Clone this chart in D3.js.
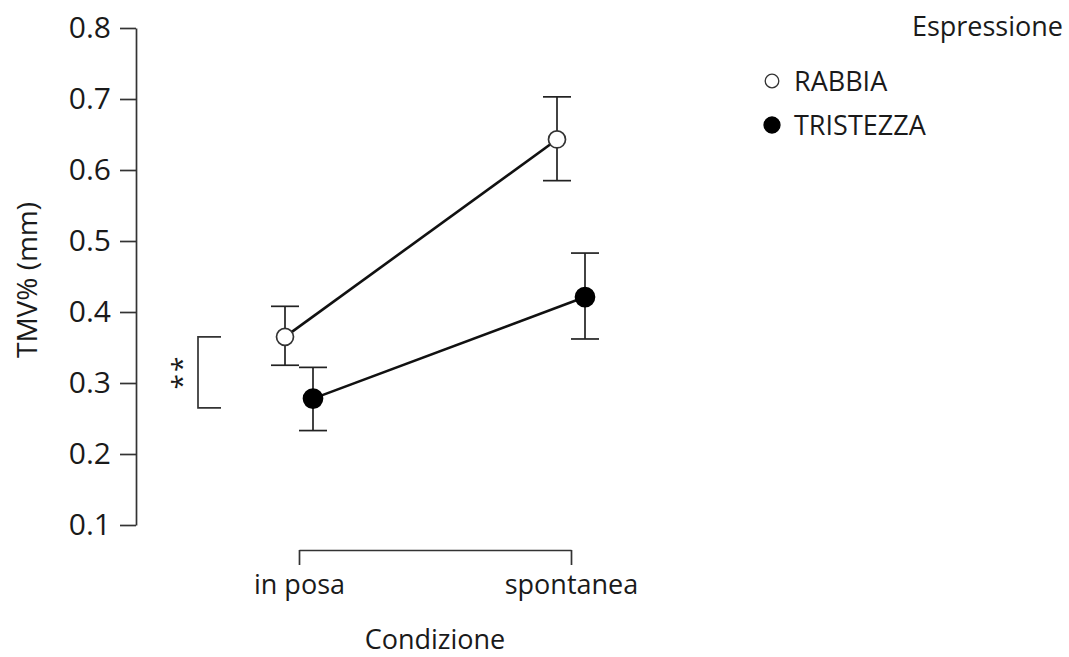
<!DOCTYPE html>
<html>
<head>
<meta charset="utf-8">
<script src="https://cdn.jsdelivr.net/npm/d3@7"></script>
<style>
  body { margin: 0; background: #fff; }
  text { font-family: "Open Sans", "Noto Sans", sans-serif; fill: #1a1a1a; }
</style>
</head>
<body>
<svg id="chart" width="1069" height="657"></svg>
<script>
// data
const conditions = ['in posa', 'spontanea'];
const series = ['RABBIA', 'TRISTEZZA'];
const means = {
    RABBIA: [0.365, 0.643],
    TRISTEZZA: [0.278, 0.421]
};
const errLow = {
    RABBIA: [0.325, 0.585],
    TRISTEZZA: [0.233, 0.362]
};
const errHigh = {
    RABBIA: [0.408, 0.703],
    TRISTEZZA: [0.322, 0.483]
};
const yTicks = [0.1, 0.2, 0.3, 0.4, 0.5, 0.6, 0.7, 0.8];
const sigBracket = [0.265, 0.365];

const svg = d3.select('#chart');
const ink = '#1a1a1a';

const y = d3.scaleLinear().domain([0.1, 0.8]).range([525, 28]);
const x = d3.scalePoint().domain(conditions).range([299, 571]);
const offset = d3.scalePoint().domain(series).range([-14, 14]);

// y axis
const yAxis = svg.append('g')
    .attr('transform', 'translate(136,0)')
    .call(d3.axisLeft(y).tickValues(yTicks).tickFormat(d3.format('.1f')).tickSize(16).tickSizeOuter(0).tickPadding(9));
yAxis.selectAll('path, line').attr('stroke', '#333').attr('stroke-width', 1.7);
yAxis.selectAll('text').style('font-size', '30px').attr('fill', ink);

// x axis (bracket style)
const xAxis = svg.append('g')
    .attr('transform', 'translate(0,550)')
    .call(d3.axisBottom(x).tickSize(15).tickSizeOuter(0).tickPadding(10));
xAxis.selectAll('path, line').attr('stroke', '#333').attr('stroke-width', 1.7);
xAxis.selectAll('text').style('font-size', '27px').attr('fill', ink);

// axis titles
svg.append('text')
    .attr('transform', 'translate(37,280) rotate(-90)')
    .attr('text-anchor', 'middle')
    .style('font-size', '28px')
    .text('TMV% (mm)');

svg.append('text')
    .attr('x', 435).attr('y', 649)
    .attr('text-anchor', 'middle')
    .style('font-size', '27px')
    .text('Condizione');

// significance bracket
svg.append('path')
    .attr('d', `M221,${y(sigBracket[1])}H198V${y(sigBracket[0])}H221`)
    .attr('fill', 'none').attr('stroke', '#333').attr('stroke-width', 1.7);
svg.append('text')
    .attr('transform', 'translate(192,372) rotate(-90)')
    .attr('text-anchor', 'middle')
    .style('font-size', '28px')
    .style('letter-spacing', '2px')
    .text('**');

// lines
const line = d3.line().x(d => x(d.c) + offset(d.s)).y(d => y(d.v));
series.forEach(s => {
    const pts = conditions.map((c, i) => ({ c, s, v: means[s][i] }));
    svg.append('path')
        .attr('d', line(pts))
        .attr('fill', 'none').attr('stroke', '#111').attr('stroke-width', 2.6);
});

// error bars
series.forEach(s => {
    conditions.forEach((c, i) => {
        const cx = x(c) + offset(s);
        const g = svg.append('g').attr('stroke', '#222').attr('stroke-width', 1.7);
        g.append('line').attr('x1', cx).attr('x2', cx).attr('y1', y(errHigh[s][i])).attr('y2', y(errLow[s][i]));
        g.append('line').attr('x1', cx - 14).attr('x2', cx + 14).attr('y1', y(errHigh[s][i])).attr('y2', y(errHigh[s][i]));
        g.append('line').attr('x1', cx - 14).attr('x2', cx + 14).attr('y1', y(errLow[s][i])).attr('y2', y(errLow[s][i]));
    });
});

// points
series.forEach(s => {
    conditions.forEach((c, i) => {
        svg.append('circle')
            .attr('cx', x(c) + offset(s))
            .attr('cy', y(means[s][i]))
            .attr('r', s === 'RABBIA' ? 8.5 : 9.5)
            .attr('fill', s === 'RABBIA' ? '#fff' : '#000')
            .attr('stroke', s === 'RABBIA' ? '#333' : '#000')
            .attr('stroke-width', 1.7);
    });
});

// legend
svg.append('text')
    .attr('x', 1063).attr('y', 36)
    .attr('text-anchor', 'end')
    .style('font-size', '27px')
    .text('Espressione');

const legend = svg.append('g').attr('transform', 'translate(772,81)');
series.forEach((s, i) => {
    const row = legend.append('g').attr('transform', `translate(0,${i * 44})`);
    row.append('circle')
        .attr('r', s === 'RABBIA' ? 6.8 : 8)
        .attr('fill', s === 'RABBIA' ? '#fff' : '#000')
        .attr('stroke', s === 'RABBIA' ? '#333' : '#000')
        .attr('stroke-width', 1.3);
    row.append('text')
        .attr('x', 22).attr('y', 10)
        .style('font-size', '27px')
        .text(s);
});
</script>
</body>
</html>
